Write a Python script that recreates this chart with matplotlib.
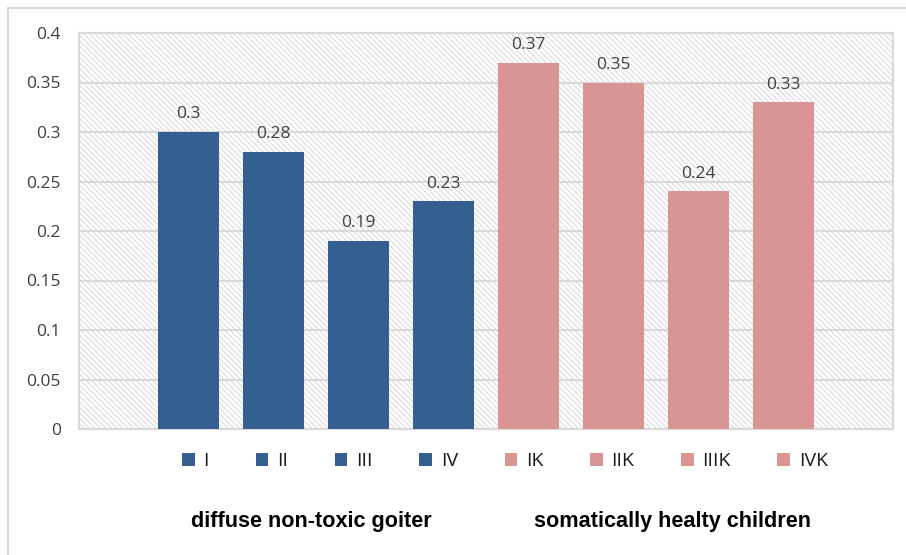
import matplotlib.pyplot as plt
from matplotlib.patches import Rectangle, Patch

groups = ['I', 'II', 'III', 'IV', 'IK', 'IIK', 'IIIK', 'IVK']
values = [0.30, 0.28, 0.19, 0.23, 0.37, 0.35, 0.24, 0.33]
group_titles = ['diffuse non-toxic goiter', 'somatically healty children']
yticks = [0, 0.05, 0.1, 0.15, 0.2, 0.25, 0.3, 0.35, 0.4]
ytick_labels = ['0', '0.05', '0.1', '0.15', '0.2', '0.25', '0.3', '0.35', '0.4']

blue = '#365f91'
pink = '#d99594'
colors = [blue] * 4 + [pink] * 4
light = '#d9d9d9'
txt = '#404040'

plt.rcParams['font.family'] = ['Open Sans', 'DejaVu Sans']
plt.rcParams['hatch.linewidth'] = 0.7

fig = plt.figure(figsize=(9.06, 5.55), dpi=100)
fig.patch.set_facecolor('white')

# outer chart frame
fig.add_artist(Rectangle((8 / 906, -0.1), 1.2, 1 - 8 / 555 + 0.1,
                         transform=fig.transFigure, fill=False,
                         edgecolor=light, linewidth=1.5, clip_on=False))

ax = fig.add_axes([79 / 906, 126 / 555, 814 / 906, 396 / 555])
ax.set_facecolor('white')
# diagonal hatched plot background
ax.add_patch(Rectangle((0, 0), 1, 1, transform=ax.transAxes,
                       facecolor='white', edgecolor='#d6d6d6', linewidth=0,
                       hatch='\\\\\\\\\\\\', zorder=0))

x = list(range(len(groups)))
ax.bar(x, values, width=0.71, color=colors, zorder=3)
for xi, v in zip(x, values):
    ax.annotate(f'{v:g}', (xi, v), xytext=(0, 7), textcoords='offset points',
                ha='center', va='bottom', fontsize=12.5, color=txt)

ax.set_xlim(-1.29, len(groups) - 1 + 1.29)
ax.set_ylim(0, 0.4)
ax.set_yticks(yticks)
ax.set_yticklabels(ytick_labels)
ax.set_xticks([])
ax.tick_params(axis='y', length=0, pad=13, labelsize=12.5, labelcolor=txt)
ax.grid(axis='y', color=light, linewidth=1.5, zorder=1)
ax.set_axisbelow(True)
for s in ax.spines.values():
    s.set_color(light)
    s.set_linewidth(1.5)

handles = [Patch(facecolor=c, edgecolor='none') for c in colors]
ax.legend(handles, groups, ncol=8, loc='center',
          bbox_to_anchor=(0.5 + 19 / 814, -(461 - 429) / 396),
          frameon=False, fontsize=14, handlelength=0.65, handleheight=0.65,
          handletextpad=0.45, columnspacing=2.4, labelcolor='#1a1a1a')

fig.text(311 / 906, 1 - 521 / 555, group_titles[0], ha='center', va='center',
         fontsize=15.6, fontweight='bold', family='Liberation Sans')
fig.text(672 / 906, 1 - 521 / 555, group_titles[1], ha='center', va='center',
         fontsize=15.6, fontweight='bold', family='Liberation Sans')

fig.savefig('out.png', dpi=100)
